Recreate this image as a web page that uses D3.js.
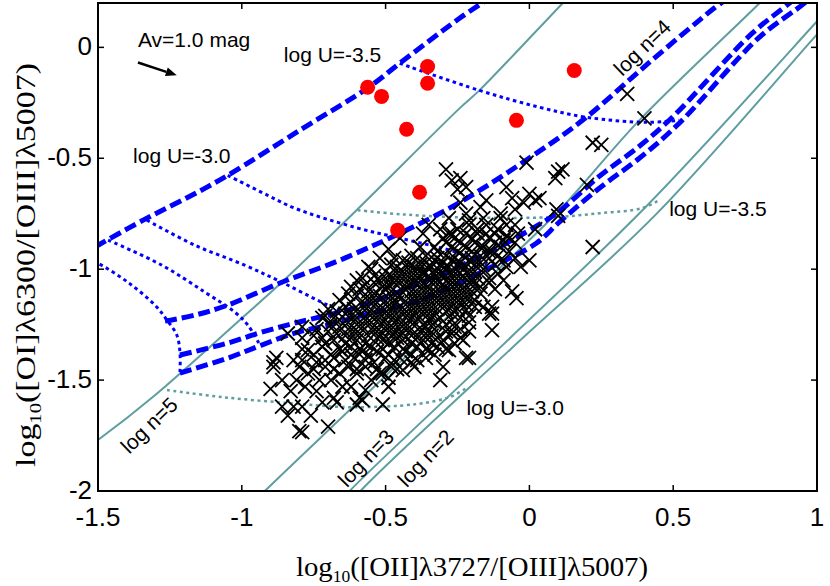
<!DOCTYPE html>
<html><head><meta charset="utf-8">
<script src="https://cdn.jsdelivr.net/npm/d3@7"></script>
<style>body{margin:0;background:#fff}</style>
</head><body>
<svg id="chart" width="830" height="586"></svg>
<script>
// ---------- data ----------
const xDomain = [-1.5, 1];
const yDomain = [-2, 0.2];
const xTicks = [-1.5, -1, -0.5, 0, 0.5, 1];
const xTickLabels = ["-1.5", "-1", "-0.5", "0", "0.5", "1"];
const yTicks = [-2, -1.5, -1, -0.5, 0];
const yTickLabels = ["-2", "-1.5", "-1", "-0.5", "0"];

// blue model grid: dashed = constant density tracks
const blueDashedA = [[-1.56,-0.937],[-1.5,-0.892],[-1.33,-0.77],[-1.174,-0.667],[-1.049,-0.577],[-0.799,-0.374],[-0.559,-0.18],[-0.451,-0.072],[-0.243,0.131],[-0.167,0.198],[-0.12,0.24]];
const blueDashedB = [[-1.267,-1.234],[-1.163,-1.207],[-1.049,-1.162],[-0.861,-1.059],[-0.642,-0.950],[-0.278,-0.725],[0.035,-0.468],[0.198,-0.315],[0.417,-0.068],[0.642,0.176],[0.70,0.23]];
const blueDashedC = [[-1.215,-1.387],[-1.049,-1.333],[-0.931,-1.284],[-0.816,-1.243],[-0.701,-1.207],[-0.608,-1.176],[-0.382,-1.063],[-0.139,-0.923],[0.024,-0.806],[0.104,-0.739],[0.243,-0.581],[0.382,-0.446],[0.497,-0.315],[0.774,0.063],[0.903,0.198],[0.93,0.23]];
const blueDashedD = [[-1.215,-1.468],[-1.049,-1.401],[-0.931,-1.342],[-0.816,-1.288],[-0.701,-1.252],[-0.59,-1.212],[-0.382,-1.14],[-0.139,-0.995],[0.024,-0.883],[0.104,-0.788],[0.243,-0.635],[0.382,-0.5],[0.521,-0.342],[0.799,0.045],[0.955,0.198],[0.98,0.23]];
// blue model grid: dotted = constant ionisation parameter
const blueDottedU35 = [[-0.451,-0.072],[-0.174,-0.194],[0.035,-0.270],[0.198,-0.315],[0.406,-0.338],[0.521,-0.329]];
const blueDottedU30 = [[-1.049,-0.577],[-0.910,-0.667],[-0.816,-0.725],[-0.608,-0.811],[-0.451,-0.860],[-0.243,-0.928],[-0.139,-0.986]];
const blueDottedU25 = [[-1.33,-0.779],[-1.163,-0.892],[-0.99,-0.982],[-0.861,-1.059],[-0.701,-1.162],[-0.59,-1.221]];
const blueDottedU20 = [[-1.465,-0.869],[-1.278,-0.982],[-1.128,-1.104],[-1.024,-1.194],[-0.979,-1.252],[-0.937,-1.342]];
const blueDottedU15 = [[-1.56,-0.937],[-1.5,-0.973],[-1.396,-1.059],[-1.302,-1.162],[-1.26,-1.230],[-1.226,-1.297],[-1.215,-1.374],[-1.215,-1.464]];

// teal model grid
const tealN5 = [[-1.6,-1.86],[-1.5,-1.770],[-1.302,-1.568],[-1.0,-1.221],[-0.861,-1.059],[-0.608,-0.743],[-0.243,-0.275],[-0.174,-0.194],[0.115,0.198],[0.14,0.23]];
const tealN3 = [[-0.95,-2.04],[-0.92,-2.0],[-0.625,-1.635],[-0.278,-1.207],[0.094,-0.748],[0.382,-0.329],[0.799,0.198],[0.83,0.24]];
const tealN2a = [[-0.65,-2.04],[-0.625,-2.0],[-0.104,-1.356],[0.417,-0.703],[0.997,0.113],[1.03,0.16]];
const tealN2b = [[-0.61,-2.04],[-0.587,-2.0],[-0.069,-1.365],[0.441,-0.752],[0.997,0.054],[1.03,0.10]];
const tealDottedU35 = [[-0.597,-0.734],[-0.451,-0.752],[-0.243,-0.766],[0.069,-0.766],[0.243,-0.748],[0.392,-0.725],[0.451,-0.689]];
const tealDottedU30 = [[-1.26,-1.545],[-1.066,-1.577],[-0.833,-1.604],[-0.625,-1.622],[-0.392,-1.608],[-0.278,-1.577],[-0.219,-1.536]];

// red filled circles
const redPoints = [[-0.5625,-0.180],[-0.514,-0.221],[-0.354,-0.086],[-0.354,-0.162],[-0.427,-0.369],[-0.045,-0.329],[0.156,-0.104],[-0.382,-0.653],[-0.458,-0.824]];

// black crosses
const crossPoints = [
[0.34,-0.21],[0.40,-0.32],[0.22,-0.43],[0.25,-0.44],[0.115,-0.55],[0.09,-0.59],[0.20,-0.62],[0.035,-0.68],[0.094,-0.73],[-0.01,-0.52],
[0.10,-0.56],[0.00,-0.66],[0.02,-0.69],[-0.06,-0.68],[-0.08,-0.63],[0.22,-0.90],[0.02,-0.82],[-0.10,-0.75],[-0.17,-0.72],[-0.24,-0.59],
[-0.22,-0.63],[0.10,-0.76],[0.00,-0.96],[-0.03,-0.99],[-0.045,-1.13],[-0.13,-1.20],[-0.13,-1.275],[-0.21,-1.24],[-0.23,-1.32],[-0.15,-0.69],
[-0.07,-0.86],[-0.16,-0.77],[-0.09,-0.96],[-0.17,-0.90],[-0.15,-0.84],[-0.08,-0.85],[-0.21,-1.40],[-0.24,-1.31],[-0.22,-1.185],[-0.13,-1.17],
[-0.29,-0.55],[-0.27,-0.60],[-0.25,-0.64],
[-0.80,-1.73],[-0.79,-1.735],[-0.70,-1.71],[-0.51,-1.61],[-0.60,-1.61],[-0.59,-1.58],[-0.68,-1.58],[-0.79,-1.62],[-0.82,-1.62],[-0.86,-1.62],
[-0.90,-1.54],[-0.89,-1.42],[-0.86,-1.50],[-0.81,-1.50],[-0.83,-1.55],[-0.31,-1.50],[-0.22,-1.40],[-0.30,-1.44],[-0.28,-1.365],[-0.35,-1.365],
[-0.41,-1.42],[-0.44,-1.455],[-0.51,-1.47],[-0.49,-1.49],[-0.57,-1.545],[-0.58,-1.59],[-0.14,-1.20],[-0.16,-1.17],[-0.89,-1.44],[-0.88,-1.40],
[-0.82,-1.41],[-0.77,-1.365],[-0.72,-1.35],[-0.84,-1.29],[-0.79,-1.26],[-0.72,-1.22],[-0.66,-1.14],[-0.60,-1.05],[-0.56,-0.99],[-0.52,-0.95],
[-0.49,-0.91],[-0.37,-0.84],[-0.29,-0.88],[-0.28,-0.84],[-0.37,-1.02],
[-0.84,-1.66],[-0.76,-1.66],[-0.72,-1.60],[-0.67,-1.60],[-0.74,-1.55],[-0.78,-1.53],[-0.65,-1.53],[-0.62,-1.53],[-0.49,-1.53],[-0.73,-1.50],
[-0.69,-1.50],[-0.55,-1.50],[-0.77,-1.47],[-0.66,-1.47],[-0.60,-1.47],[-0.52,-1.47],[-0.80,-1.44],[-0.71,-1.44],[-0.63,-1.44],[-0.57,-1.44],
[-0.48,-1.44],[-0.40,-1.44],[-0.74,-1.42],[-0.54,-1.42],[-0.68,-1.40],[-0.61,-1.40],[-0.50,-1.40],[-0.45,-1.40],[-0.36,-1.40],
[-0.65,-1.37],[-0.58,-1.37],[-0.53,-1.37],[-0.43,-1.37],
[-0.62,-1.35],[-0.55,-1.35],[-0.47,-1.35],[-0.39,-1.35],[-0.32,-1.35],
[-0.68,-1.32],[-0.60,-1.32],[-0.51,-1.32],[-0.44,-1.32],[-0.37,-1.32],[-0.30,-1.32],
[-0.75,-1.30],[-0.64,-1.30],[-0.56,-1.30],[-0.48,-1.30],[-0.41,-1.30],[-0.34,-1.30],
[-0.70,-1.28],[-0.61,-1.28],[-0.53,-1.28],[-0.46,-1.28],[-0.38,-1.28],[-0.29,-1.28],[-0.21,-1.28],
[-0.66,-1.26],[-0.58,-1.26],[-0.50,-1.26],[-0.43,-1.26],[-0.36,-1.26],[-0.26,-1.26],
[-0.63,-1.24],[-0.55,-1.24],[-0.47,-1.24],[-0.40,-1.24],[-0.33,-1.24],
[-0.68,-1.22],[-0.60,-1.22],[-0.52,-1.22],[-0.45,-1.22],[-0.38,-1.22],[-0.31,-1.22],[-0.24,-1.22],
[-0.64,-1.20],[-0.56,-1.20],[-0.49,-1.20],[-0.42,-1.20],[-0.35,-1.20],[-0.27,-1.20],
[-0.70,-1.18],[-0.61,-1.18],[-0.53,-1.18],[-0.46,-1.18],[-0.39,-1.18],[-0.32,-1.18],[-0.25,-1.18],
[-0.58,-1.16],[-0.50,-1.16],[-0.43,-1.16],[-0.36,-1.16],[-0.29,-1.16],[-0.22,-1.16],
[-0.55,-1.14],[-0.47,-1.14],[-0.40,-1.14],[-0.33,-1.14],[-0.26,-1.14],[-0.19,-1.14],
[-0.60,-1.12],[-0.52,-1.12],[-0.45,-1.12],[-0.37,-1.12],[-0.30,-1.12],[-0.23,-1.12],
[-0.56,-1.10],[-0.48,-1.10],[-0.41,-1.10],[-0.34,-1.10],[-0.27,-1.10],[-0.20,-1.10],
[-0.62,-1.08],[-0.51,-1.08],[-0.44,-1.08],[-0.38,-1.08],[-0.31,-1.08],[-0.24,-1.08],[-0.17,-1.08],
[-0.54,-1.06],[-0.47,-1.06],[-0.40,-1.06],[-0.34,-1.06],[-0.28,-1.06],[-0.21,-1.06],[-0.14,-1.06],
[-0.58,-1.04],[-0.50,-1.04],[-0.43,-1.04],[-0.30,-1.04],[-0.24,-1.04],[-0.18,-1.04],
[-0.46,-1.02],[-0.39,-1.02],[-0.33,-1.02],[-0.27,-1.02],[-0.21,-1.02],
[-0.55,-1.00],[-0.42,-1.00],[-0.35,-1.00],[-0.29,-1.00],[-0.23,-1.00],[-0.16,-1.00],
[-0.48,-0.98],[-0.38,-0.98],[-0.31,-0.98],[-0.25,-0.98],[-0.19,-0.98],[-0.12,-0.98],
[-0.44,-0.96],[-0.33,-0.96],[-0.27,-0.96],[-0.21,-0.96],
[-0.41,-0.94],[-0.36,-0.94],[-0.29,-0.94],[-0.23,-0.94],[-0.17,-0.94],[-0.11,-0.94],
[-0.32,-0.92],[-0.25,-0.92],[-0.20,-0.92],[-0.14,-0.92],[-0.07,-0.92],
[-0.38,-0.90],[-0.22,-0.90],
[-0.24,-0.88],[-0.19,-0.88],[-0.12,-0.88],[-0.05,-0.88],
[-0.45,-0.86],[-0.26,-0.86],[-0.20,-0.86],
[-0.22,-0.84],[-0.12,-0.84],
[-0.31,-0.82],[-0.25,-0.82],[-0.18,-0.82],[-0.11,-0.82],
[-0.35,-0.80],[-0.21,-0.80],[-0.05,-0.80],
[-0.28,-0.77],[-0.10,-0.77],[-0.22,-0.75],[-0.05,-0.73],[-0.24,-0.70],[-0.02,-0.70],
[-0.75,-1.45],[-0.68,-1.45],[-0.60,-1.45],[-0.53,-1.45],[-0.46,-1.45],
[-0.79,-1.41],[-0.71,-1.41],[-0.64,-1.41],[-0.57,-1.41],[-0.47,-1.41],[-0.39,-1.41],
[-0.75,-1.385],[-0.69,-1.385],[-0.62,-1.385],[-0.56,-1.385],[-0.49,-1.385],[-0.41,-1.385],[-0.33,-1.385],
[-0.79,-1.36],[-0.66,-1.36],[-0.59,-1.36],[-0.51,-1.36],[-0.44,-1.36],[-0.36,-1.36],[-0.29,-1.36],
[-0.71,-1.335],[-0.64,-1.335],[-0.57,-1.335],[-0.49,-1.335],[-0.41,-1.335],[-0.34,-1.335],[-0.26,-1.335],
[-0.79,-1.31],[-0.72,-1.31],[-0.62,-1.31],[-0.53,-1.31],[-0.46,-1.31],[-0.39,-1.31],[-0.32,-1.31],
[-0.67,-1.29],[-0.59,-1.29],[-0.51,-1.29],[-0.44,-1.29],[-0.36,-1.29],[-0.27,-1.29],
[-0.74,-1.27],[-0.63,-1.27],[-0.55,-1.27],[-0.48,-1.27],[-0.41,-1.27],[-0.33,-1.27],[-0.24,-1.27],
[-0.69,-1.25],[-0.60,-1.25],[-0.52,-1.25],[-0.45,-1.25],[-0.37,-1.25],[-0.29,-1.25],
[-0.66,-1.23],[-0.57,-1.23],[-0.50,-1.23],[-0.42,-1.23],[-0.35,-1.23],[-0.27,-1.23],
[-0.71,-1.21],[-0.62,-1.21],[-0.54,-1.21],[-0.47,-1.21],[-0.40,-1.21],[-0.33,-1.21],[-0.21,-1.21],
[-0.67,-1.19],[-0.59,-1.19],[-0.51,-1.19],[-0.44,-1.19],[-0.37,-1.19],[-0.29,-1.19],
[-0.64,-1.17],[-0.56,-1.17],[-0.48,-1.17],[-0.41,-1.17],[-0.34,-1.17],[-0.27,-1.17],[-0.19,-1.17],
[-0.62,-1.15],[-0.53,-1.15],[-0.46,-1.15],[-0.38,-1.15],[-0.31,-1.15],[-0.24,-1.15],
[-0.57,-1.13],[-0.49,-1.13],[-0.42,-1.13],[-0.35,-1.13],[-0.28,-1.13],[-0.21,-1.13],
[-0.63,-1.11],[-0.54,-1.11],[-0.46,-1.11],[-0.39,-1.11],[-0.32,-1.11],[-0.25,-1.11],
[-0.59,-1.09],[-0.50,-1.09],[-0.43,-1.09],[-0.36,-1.09],[-0.29,-1.09],[-0.22,-1.09],
[-0.57,-1.07],[-0.49,-1.07],[-0.42,-1.07],[-0.36,-1.07],[-0.30,-1.07],[-0.26,-1.07],[-0.19,-1.07],
[-0.52,-1.05],[-0.45,-1.05],[-0.38,-1.05],[-0.32,-1.05],[-0.26,-1.05],[-0.20,-1.05],
[-0.54,-1.03],[-0.48,-1.03],[-0.41,-1.03],[-0.35,-1.03],[-0.29,-1.03],[-0.23,-1.03],
[-0.50,-1.01],[-0.44,-1.01],[-0.37,-1.01],[-0.31,-1.01],[-0.25,-1.01],[-0.19,-1.01],
[-0.46,-0.99],[-0.40,-0.99],[-0.34,-0.99],[-0.28,-0.99],[-0.22,-0.99],
[-0.42,-0.97],[-0.36,-0.97],[-0.30,-0.97],[-0.24,-0.97],[-0.17,-0.97],
[-0.47,-0.95],[-0.39,-0.95],[-0.32,-0.95],[-0.26,-0.95],[-0.20,-0.95],[-0.14,-0.95],
[-0.33,-0.90],[-0.27,-0.90],[-0.16,-0.90],[-0.10,-0.90],[-0.30,-0.86],[-0.14,-0.86],[-0.09,-0.87],[-0.27,-0.84],
[-0.18,-0.84],[-0.04,-0.84],[-0.21,-0.78],[-0.15,-0.80],[-0.08,-0.80],[-0.13,-0.92],[-0.05,-0.95],[-0.08,-0.99],
[-0.11,-1.02],[-0.14,-1.04],[-0.09,-1.05],[-0.17,-1.11],[-0.12,-1.09],[-0.06,-1.10]
];

const labels = [
  {t:"Av=1.0 mag", x:-1.361, y:0.0, anchor:"start"},
  {t:"log U=-3.5", x:-0.854, y:-0.068, anchor:"start"},
  {t:"log U=-3.0", x:-1.378, y:-0.523, anchor:"start"},
  {t:"log U=-3.5", x:0.486, y:-0.761, anchor:"start"},
  {t:"log U=-3.0", x:-0.219, y:-1.657, anchor:"start"}
];
const rotLabels = [
  {t:"log n=5", x:-1.323, y:-1.703, rot:-44},
  {t:"log n=3", x:-0.569, y:-1.851, rot:-46},
  {t:"log n=2", x:-0.361, y:-1.851, rot:-46},
  {t:"log n=4", x:0.392, y:-0.0, rot:-44}
];
const avArrow = [[-1.361,-0.068],[-1.226,-0.126]];

// ---------- drawing ----------
const svg = d3.select("#chart");
const x = d3.scaleLinear().domain(xDomain).range([98, 817]);
const y = d3.scaleLinear().domain(yDomain).range([491, 3]);

svg.append("defs").append("clipPath").attr("id","clip")
  .append("rect").attr("x",98).attr("y",3).attr("width",719).attr("height",488);

const plot = svg.append("g").attr("clip-path","url(#clip)");
const line = d3.line().x(d=>x(d[0])).y(d=>y(d[1])).curve(d3.curveCatmullRom.alpha(0.5));

const teal = "#5f9ea0";
[tealN5, tealN3, tealN2a, tealN2b].forEach(s=>{
  plot.append("path").attr("d", line(s)).attr("fill","none").attr("stroke",teal).attr("stroke-width",2);
});
[tealDottedU35, tealDottedU30].forEach(s=>{
  plot.append("path").attr("d", line(s)).attr("fill","none").attr("stroke",teal)
    .attr("stroke-width",2.5).attr("stroke-dasharray","3,3.5");
});
[blueDottedU35, blueDottedU30, blueDottedU25, blueDottedU20, blueDottedU15].forEach(s=>{
  plot.append("path").attr("d", line(s)).attr("fill","none").attr("stroke","#0000ff")
    .attr("stroke-width",3).attr("stroke-dasharray","3.5,3.5");
});
[blueDashedA, blueDashedB, blueDashedC, blueDashedD].forEach(s=>{
  plot.append("path").attr("d", line(s)).attr("fill","none").attr("stroke","#0000ff")
    .attr("stroke-width",5).attr("stroke-dasharray","12,5");
});

plot.append("g").selectAll("path").data(crossPoints).join("path")
  .attr("d", d=>{const cx=x(d[0]), cy=y(d[1]); return `M${cx-7},${cy-7}L${cx+7},${cy+7}M${cx-7},${cy+7}L${cx+7},${cy-7}`;})
  .attr("stroke","#000").attr("stroke-width",1.8).attr("fill","none");

plot.append("g").selectAll("circle").data(redPoints).join("circle")
  .attr("cx",d=>x(d[0])).attr("cy",d=>y(d[1])).attr("r",7.5).attr("fill","#ff0000");

// Av arrow
const ax0=x(avArrow[0][0]), ay0=y(avArrow[0][1]), ax1=x(avArrow[1][0]), ay1=y(avArrow[1][1]);
const ang=Math.atan2(ay1-ay0, ax1-ax0);
const hl=11, hw=4.5;
const bx=ax1-hl*Math.cos(ang), by=ay1-hl*Math.sin(ang);
svg.append("line").attr("x1",ax0).attr("y1",ay0).attr("x2",bx).attr("y2",by)
  .attr("stroke","#000").attr("stroke-width",2.5);
svg.append("path").attr("d",`M${ax1},${ay1}L${bx+hw*Math.sin(ang)},${by-hw*Math.cos(ang)}L${bx-hw*Math.sin(ang)},${by+hw*Math.cos(ang)}Z`)
  .attr("fill","#000");

// annotations
svg.append("g").selectAll("text").data(labels).join("text")
  .attr("x",d=>x(d.x)).attr("y",d=>y(d.y)).attr("text-anchor",d=>d.anchor)
  .attr("font-family","'Liberation Sans', Arial, sans-serif").attr("font-size",21)
  .attr("fill","#000").text(d=>d.t);
svg.append("g").selectAll("text").data(rotLabels).join("text")
  .attr("transform",d=>`translate(${x(d.x)},${y(d.y)}) rotate(${d.rot})`)
  .attr("text-anchor","middle").attr("dominant-baseline","central")
  .attr("font-family","'Liberation Sans', Arial, sans-serif").attr("font-size",21)
  .attr("fill","#000").text(d=>d.t);

// frame
svg.append("rect").attr("x",98).attr("y",3).attr("width",719).attr("height",488)
  .attr("fill","none").attr("stroke","#000").attr("stroke-width",2);

// ticks (inward on all sides)
const tk = svg.append("g").attr("stroke","#000").attr("stroke-width",1.5);
xTicks.forEach(v=>{
  tk.append("line").attr("x1",x(v)).attr("x2",x(v)).attr("y1",491).attr("y2",485);
  tk.append("line").attr("x1",x(v)).attr("x2",x(v)).attr("y1",3).attr("y2",9);
});
yTicks.forEach(v=>{
  tk.append("line").attr("y1",y(v)).attr("y2",y(v)).attr("x1",98).attr("x2",104);
  tk.append("line").attr("y1",y(v)).attr("y2",y(v)).attr("x1",817).attr("x2",811);
});
svg.append("g").selectAll("text").data(xTicks).join("text")
  .attr("x",d=>x(d)).attr("y",526).attr("text-anchor","middle")
  .attr("font-family","'Liberation Sans', Arial, sans-serif").attr("font-size",26)
  .text((d,i)=>xTickLabels[i]);
svg.append("g").selectAll("text").data(yTicks).join("text")
  .attr("x",92).attr("y",d=>y(d)-1).attr("text-anchor","end").attr("dominant-baseline","central")
  .attr("font-family","'Liberation Sans', Arial, sans-serif").attr("font-size",26)
  .text((d,i)=>yTickLabels[i]);

// axis titles
function title(sel, parts){
  parts.forEach(p=>{
    const t = sel.append("tspan").text(p.s);
    if(p.sub){ t.attr("font-size",17).attr("dy",6); }
    else if(p.after){ t.attr("dy",-6); }
  });
}
const xt = svg.append("text").attr("x",472).attr("y",576).attr("text-anchor","middle")
  .attr("font-family","'Liberation Serif', 'Times New Roman', serif").attr("font-size",28)
  .attr("textLength",352).attr("lengthAdjust","spacingAndGlyphs");
title(xt, [{s:"log"},{s:"10",sub:true},{s:"([OII]λ3727/[OIII]λ5007)",after:true}]);
const yt = svg.append("text").attr("transform","translate(35,265) rotate(-90)").attr("text-anchor","middle")
  .attr("font-family","'Liberation Serif', 'Times New Roman', serif").attr("font-size",28)
  .attr("textLength",404).attr("lengthAdjust","spacingAndGlyphs");
title(yt, [{s:"log"},{s:"10",sub:true},{s:"([OI]λ6300/[OIII]λ5007)",after:true}]);
</script>
</body></html>
